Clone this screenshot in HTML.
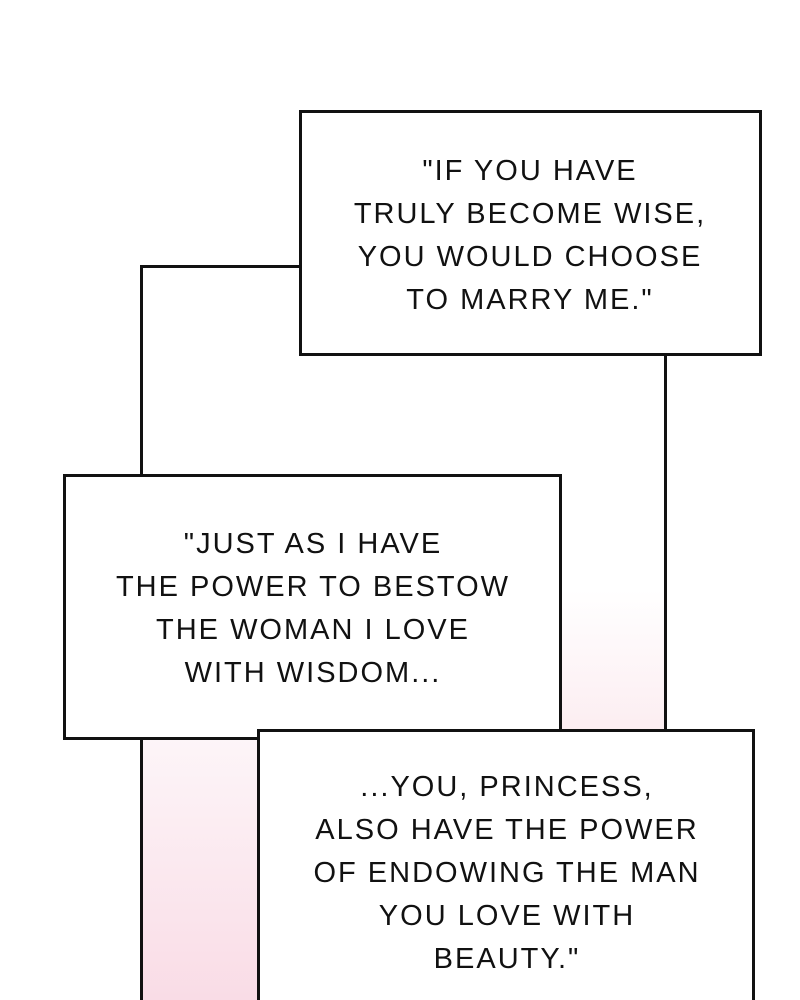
<!DOCTYPE html>
<html><head><style>
html,body{margin:0;padding:0;background:#fff;width:800px;height:1000px;overflow:hidden;}
body{position:relative;font-family:"Liberation Sans",sans-serif;}
.box{position:absolute;background:#fff;border:3px solid #111;box-sizing:border-box;}
.ln{position:absolute;background:#111;}
.t{position:absolute;text-align:center;font-size:29px;line-height:43px;letter-spacing:2px;color:#111;white-space:nowrap;transform:translateX(-50%);}
.pink{position:absolute;}
</style></head><body>
<div class="pink" style="left:143px;top:739px;width:116px;height:261px;background:linear-gradient(#fdf5f8,#f9dce6);"></div>
<div class="pink" style="left:561px;top:590px;width:104px;height:142px;background:linear-gradient(#fff,#fcedf1);"></div>
<div class="ln" style="left:140px;top:265px;width:162px;height:3px;"></div>
<div class="ln" style="left:140px;top:265px;width:3px;height:735px;"></div>
<div class="ln" style="left:664px;top:353px;width:3px;height:380px;"></div>
<div class="box" style="left:299px;top:110px;width:463px;height:246px;"></div>
<div class="box" style="left:63px;top:474px;width:499px;height:266px;"></div>
<div class="box" style="left:257px;top:729px;width:498px;height:271px;border-bottom:none;"></div>
<div class="t" style="left:530px;top:150px;">"IF YOU HAVE<br>TRULY BECOME WISE,<br>YOU WOULD CHOOSE<br>TO MARRY ME."</div>
<div class="t" style="left:313px;top:523px;">"JUST AS I HAVE<br>THE POWER TO BESTOW<br>THE WOMAN I LOVE<br>WITH WISDOM...</div>
<div class="t" style="left:507px;top:766px;">...YOU, PRINCESS,<br>ALSO HAVE THE POWER<br>OF ENDOWING THE MAN<br>YOU LOVE WITH<br>BEAUTY."</div>
</body></html>
